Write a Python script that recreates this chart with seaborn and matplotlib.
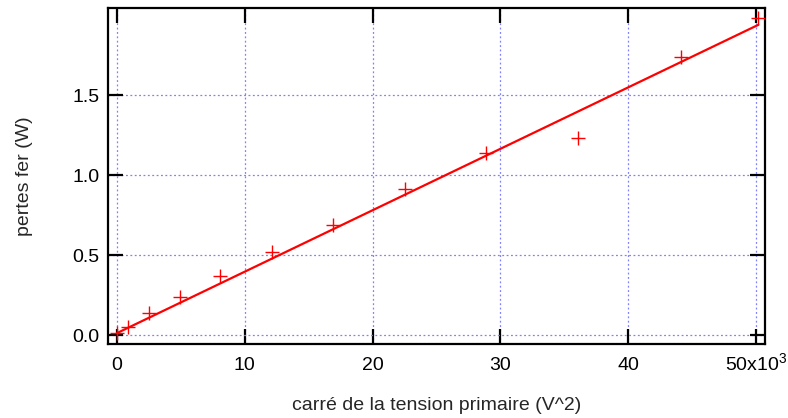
import numpy as np
import pandas as pd
import matplotlib
matplotlib.use("Agg")
import matplotlib.pyplot as plt
import seaborn as sns

# data (x in V^2, y in W)
v_squared = [0, 900, 2500, 4900, 8100, 12100, 16900, 22500, 28900, 36100, 44100, 50176]
pertes_fer = [0.01, 0.05, 0.14, 0.24, 0.37, 0.52, 0.69, 0.91, 1.14, 1.23, 1.74, 1.98]
fit_slope = 3.84e-5
fit_intercept = 0.012
x_ticks = [0, 10000, 20000, 30000, 40000, 50000]
x_tick_labels = ["0", "10", "20", "30", "40", "50x10$^{3}$"]
y_ticks = [0.0, 0.5, 1.0, 1.5]
y_tick_labels = ["0.0", "0.5", "1.0", "1.5"]

sns.set_style("white")
plt.rcParams["font.family"] = ["Liberation Sans", "DejaVu Sans"]
plt.rcParams["mathtext.default"] = "regular"

df = pd.DataFrame({"x": v_squared, "y": pertes_fer})
fit_x = np.array([v_squared[0], v_squared[-1]], dtype=float)
fit_df = pd.DataFrame({"x": fit_x, "y": fit_intercept + fit_slope * fit_x})

fig = plt.figure(figsize=(7.88, 4.18), dpi=100)
ax = fig.add_axes([108/788, 1 - 344/418, (765-108)/788, (344-8)/418])

sns.scatterplot(data=df, x="x", y="y", marker="+", color="red", s=100,
                linewidth=1.0, ax=ax, zorder=3)
sns.lineplot(data=fit_df, x="x", y="y", color="red", linewidth=1.6, ax=ax, zorder=4)

ax.set_xlim(-700, 50700)
ax.set_ylim(-0.056, 2.044)
ax.set_xticks(x_ticks)
ax.set_xticklabels(x_tick_labels)
ax.set_yticks(y_ticks)
ax.set_yticklabels(y_tick_labels)

ax.grid(True, color="#8080ff", linestyle=(0, (1.5, 2)), linewidth=0.9)
ax.set_axisbelow(True)
for s in ax.spines.values():
    s.set_color("black")
    s.set_linewidth(1.6)
    s.set_visible(True)

ax.tick_params(axis="both", which="major", direction="in", length=11, width=1.6,
               top=True, right=True, bottom=True, left=True, labelsize=14,
               colors="black")
ax.tick_params(axis="x", pad=19)
ax.tick_params(axis="y", pad=6)
for lab in ax.get_xticklabels():
    lab.set_verticalalignment("baseline")

ax.set_xlabel("carré de la tension primaire (V^2)", fontsize=14)
ax.set_ylabel("pertes fer (W)", fontsize=14)
ax.xaxis.set_label_coords(0.5, -0.158)
ax.yaxis.set_label_coords(-0.114, 0.5)

fig.savefig("out.png", dpi=100)
